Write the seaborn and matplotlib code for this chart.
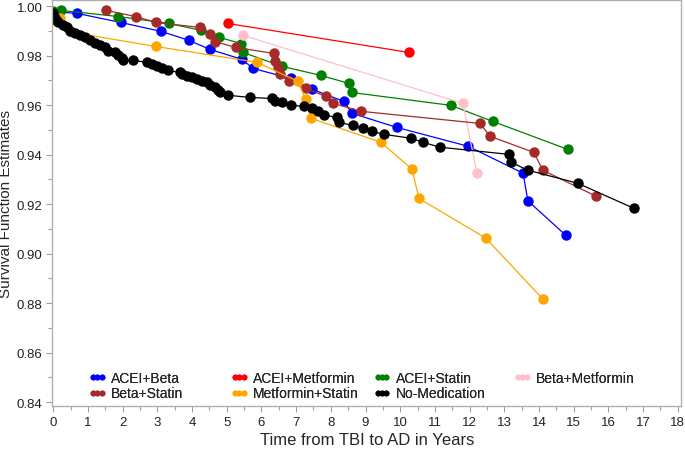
import pandas as pd
import matplotlib
matplotlib.use("Agg")
import matplotlib.pyplot as plt
from matplotlib.lines import Line2D
from matplotlib.ticker import MultipleLocator
import seaborn as sns

# Kaplan-Meier style survival estimates
acei_beta_t = [0.0, 0.68, 1.95, 3.11, 3.91, 4.52, 5.44, 5.76, 6.85, 7.46, 8.38, 8.61, 9.90, 11.95, 13.54, 13.68, 14.77]
acei_beta_s = [0.9978, 0.9971, 0.9934, 0.9898, 0.9862, 0.9825, 0.9785, 0.9748, 0.9708, 0.9664, 0.9615, 0.9567, 0.9510, 0.9434, 0.9325, 0.9213, 0.9074]

acei_metf_t = [5.03, 10.25]
acei_metf_s = [0.9930, 0.9813]

acei_stat_t = [0.0, 0.22, 1.87, 3.34, 4.26, 4.78, 5.41, 5.47, 6.59, 7.71, 8.52, 8.61, 11.46, 12.67, 14.83]
acei_stat_s = [0.9980, 0.9983, 0.9958, 0.9930, 0.9902, 0.9874, 0.9849, 0.9813, 0.9757, 0.9720, 0.9688, 0.9651, 0.9599, 0.9534, 0.9421]

beta_metf_t = [5.47, 11.81, 12.21]
beta_metf_s = [0.9882, 0.9607, 0.9324]

beta_stat_t = [1.52, 2.38, 2.96, 4.23, 4.52, 4.66, 5.26, 6.36, 6.39, 6.48, 6.53, 6.79, 7.28, 7.86, 8.06, 8.87, 12.30, 12.59, 13.85, 14.11, 15.64]
beta_stat_s = [0.9983, 0.9958, 0.9934, 0.9914, 0.9886, 0.9857, 0.9833, 0.9809, 0.9777, 0.9753, 0.9724, 0.9696, 0.9668, 0.9635, 0.9607, 0.9575, 0.9526, 0.9474, 0.9409, 0.9337, 0.9232]

metf_stat_t = [0.19, 0.54, 2.96, 5.87, 7.05, 7.28, 7.42, 9.44, 10.34, 10.54, 12.47, 14.11]
metf_stat_s = [0.9954, 0.9894, 0.9837, 0.9773, 0.9696, 0.9623, 0.9547, 0.9450, 0.9341, 0.9223, 0.9062, 0.8816]

no_med_t = [0.0, 0.05, 0.11, 0.14, 0.28, 0.39, 0.48, 0.63, 0.77, 0.91, 1.06, 1.20, 1.35, 1.49, 1.58,
            1.78, 1.86, 1.98, 2.01, 2.30, 2.70, 2.84, 2.99, 3.13, 3.30, 3.65, 3.71, 3.85, 4.00, 4.14,
            4.29, 4.43, 4.52, 4.66, 4.75, 4.80, 5.03, 5.67, 6.30, 6.39, 6.59, 6.86, 7.22, 7.46, 7.63,
            7.80, 8.18, 8.23, 8.64, 8.92, 9.18, 9.53, 10.31, 10.65, 11.14, 13.13, 13.19, 13.68, 15.12, 16.73]
no_med_s = [0.9972, 0.9954, 0.9938, 0.9934, 0.9922, 0.9914, 0.9898, 0.9890, 0.9882, 0.9874, 0.9862, 0.9853, 0.9841, 0.9833, 0.9817,
            0.9813, 0.9801, 0.9789, 0.9781, 0.9781, 0.9773, 0.9765, 0.9757, 0.9748, 0.9740, 0.9732, 0.9725, 0.9716, 0.9712, 0.9704,
            0.9696, 0.9692, 0.9680, 0.9672, 0.9660, 0.9652, 0.9640, 0.9631, 0.9627, 0.9615, 0.9611, 0.9599, 0.9595, 0.9587, 0.9575,
            0.9559, 0.9551, 0.9530, 0.9518, 0.9506, 0.9494, 0.9482, 0.9466, 0.9450, 0.9430, 0.9401, 0.9369, 0.9337, 0.9284, 0.9183]

groups = ["ACEI+Beta", "ACEI+Metformin", "ACEI+Statin", "Beta+Metformin",
          "Beta+Statin", "Metformin+Statin", "No-Medication"]
colors = ["blue", "red", "green", "pink", "brown", "orange", "black"]

series = {
    "ACEI+Beta": (acei_beta_t, acei_beta_s),
    "ACEI+Metformin": (acei_metf_t, acei_metf_s),
    "ACEI+Statin": (acei_stat_t, acei_stat_s),
    "Beta+Metformin": (beta_metf_t, beta_metf_s),
    "Beta+Statin": (beta_stat_t, beta_stat_s),
    "Metformin+Statin": (metf_stat_t, metf_stat_s),
    "No-Medication": (no_med_t, no_med_s),
}

frames = []
for g in groups:
    t, s = series[g]
    frames.append(pd.DataFrame({"time": t, "surv": s, "group": g}))
df = pd.concat(frames, ignore_index=True)

sns.set_style("white")
plt.rcParams["font.family"] = ["Liberation Sans", "DejaVu Sans"]

fig = plt.figure(figsize=(6.85, 4.56), dpi=100)
ax = fig.add_axes([0.0766, 0.1075, 0.9175, 0.8893])

pal = dict(zip(groups, colors))
sns.lineplot(data=df, x="time", y="surv", hue="group", hue_order=groups, palette=pal,
             marker="o", markersize=7.5, markeredgewidth=0, linewidth=0.9,
             estimator=None, sort=False, legend=False, ax=ax)

ax.set_xlim(-0.02, 18.09)
ax.set_ylim(0.8384, 1.0023)
ax.xaxis.set_major_locator(MultipleLocator(1))
ax.xaxis.set_minor_locator(MultipleLocator(0.5))
ax.yaxis.set_major_locator(MultipleLocator(0.02))
ax.yaxis.set_minor_locator(MultipleLocator(0.01))
ax.yaxis.set_major_formatter(matplotlib.ticker.FormatStrFormatter("%.2f"))
ax.tick_params(which="both", direction="out", color="#a0a0a0", labelsize=9.5,
               labelcolor="#222222", bottom=True, left=True, pad=3)
ax.tick_params(which="major", length=4, width=0.8)
ax.tick_params(which="minor", length=3, width=0.8)
for sp in ax.spines.values():
    sp.set_color("#b0b0b0")
    sp.set_linewidth(1)

ax.set_xlabel("Time from TBI to AD in Years", fontsize=12, labelpad=3)
ax.set_ylabel("Survival Function Estimates", fontsize=11, labelpad=3)

# legend laid out in four columns like the SAS output
columns = [["ACEI+Beta", "Beta+Statin"],
           ["ACEI+Metformin", "Metformin+Statin"],
           ["ACEI+Statin", "No-Medication"],
           ["Beta+Metformin"]]
col_x = [89, 231, 374, 514]
for names, px in zip(columns, col_x):
    handles = [Line2D([], [], color=pal[n], marker="o", markersize=3.2, linewidth=0.8)
               for n in names]
    leg = fig.legend(handles, names, loc="upper left",
                     bbox_to_anchor=(px / 685, 1 - 372 / 456), frameon=False,
                     fontsize=10, numpoints=3, handlelength=1.2, handletextpad=0.4,
                     labelspacing=0.1, borderpad=0, borderaxespad=0)
    fig.add_artist(leg)

fig.savefig("out.png", dpi=100)
